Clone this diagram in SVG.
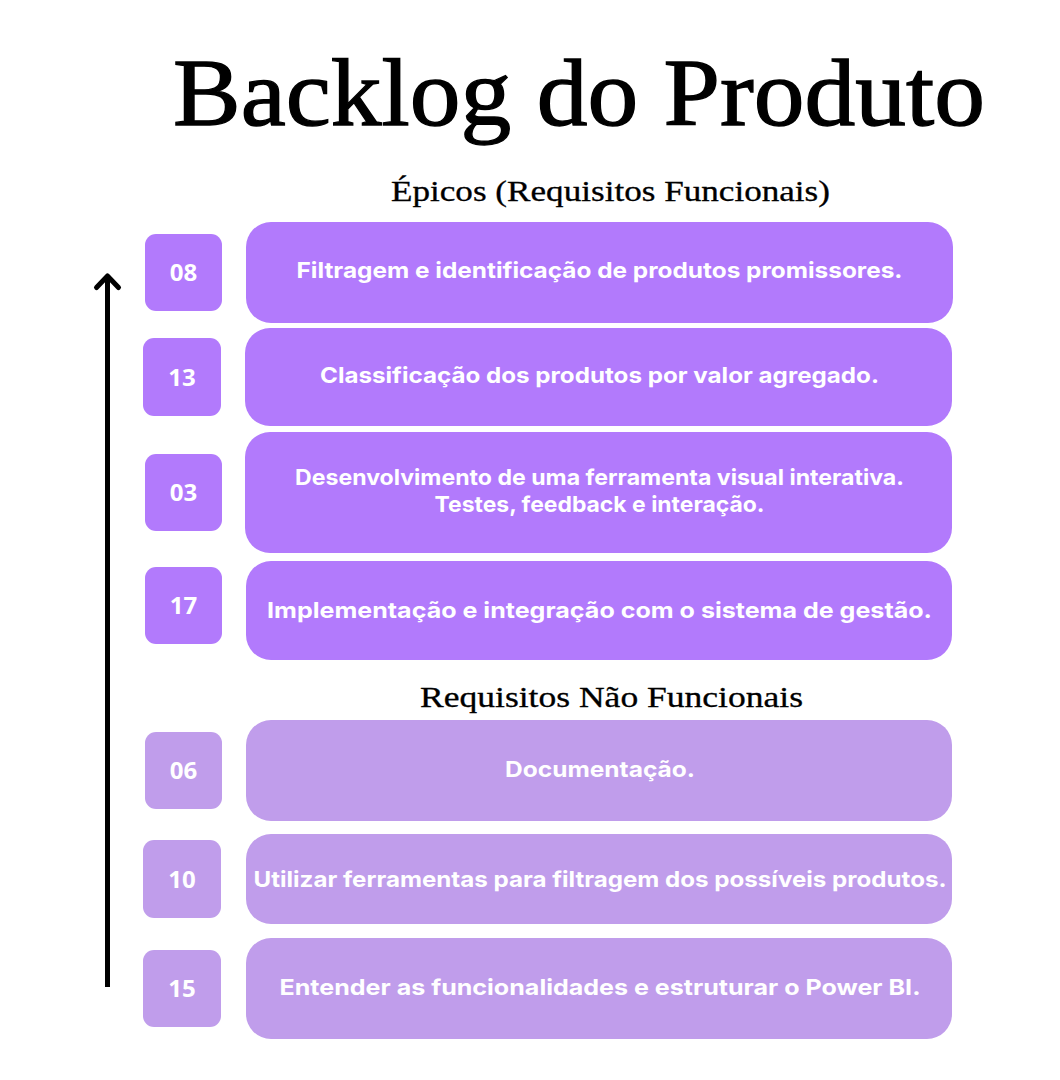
<svg xmlns="http://www.w3.org/2000/svg" width="1060" height="1080" viewBox="0 0 1060 1080">
  <style>
    .title { font-family: "Liberation Serif", "DejaVu Serif", serif; font-size: 95px; fill: #000; stroke: #000; stroke-width: 1.3px; }
    .sub { font-family: "Liberation Serif", "DejaVu Serif", serif; font-size: 29px; fill: #000; stroke: #000; stroke-width: 0.3px; }
    .epic { fill: #b27afc; }
    .nf { fill: #c09deb; }
    .num { font-family: "Open Sans", "Liberation Sans", sans-serif; font-weight: 700; font-size: 24px; fill: #fff; text-anchor: middle; }
    .lbl { font-family: "Inter", "Liberation Sans", sans-serif; font-weight: 700; font-size: 22px; fill: #fff; text-anchor: middle; }
  </style>
  <defs>
    <marker id="chev" viewBox="-16 -16 32 32" refX="0" refY="0" markerWidth="32" markerHeight="32" markerUnits="userSpaceOnUse" orient="auto" overflow="visible">
      <path d="M -11.5 -11 L 0 0 L -11.5 11" fill="none" stroke="#000" stroke-width="5" stroke-linecap="round" stroke-linejoin="round"/>
    </marker>
  </defs>
  <rect width="1060" height="1080" fill="#fff"/>

  <text class="title" x="173" y="125" textLength="812" lengthAdjust="spacingAndGlyphs">Backlog do Produto</text>
  <text class="sub" x="391" y="201" textLength="439" lengthAdjust="spacingAndGlyphs">Épicos (Requisitos Funcionais)</text>
  <text class="sub" x="420" y="707" textLength="383" lengthAdjust="spacingAndGlyphs">Requisitos Não Funcionais</text>

  <g id="connectors">
    <line x1="107.5" y1="987" x2="107.5" y2="276" stroke="#000" stroke-width="5" marker-end="url(#chev)"/>
  </g>

  <g id="item-08">
    <rect class="epic" x="145" y="234" width="77" height="77" rx="11"/>
    <text class="num" x="183.5" y="281">08</text>
    <rect class="epic" x="246" y="222" width="707" height="101" rx="25"/>
    <text class="lbl" x="599.5" y="278" textLength="606" lengthAdjust="spacingAndGlyphs">Filtragem e identificação de produtos promissores.</text>
  </g>

  <g id="item-13">
    <rect class="epic" x="143" y="338" width="78" height="78" rx="11"/>
    <text class="num" x="182" y="385.5">13</text>
    <rect class="epic" x="245" y="328" width="707" height="98" rx="25"/>
    <text class="lbl" x="599.5" y="383" textLength="559" lengthAdjust="spacingAndGlyphs">Classificação dos produtos por valor agregado.</text>
  </g>

  <g id="item-03">
    <rect class="epic" x="145" y="454" width="77" height="77" rx="11"/>
    <text class="num" x="183.5" y="501">03</text>
    <rect class="epic" x="245" y="432" width="707" height="121" rx="25"/>
    <text class="lbl" x="599.5" y="485" textLength="609" lengthAdjust="spacingAndGlyphs">Desenvolvimento de uma ferramenta visual interativa.</text>
    <text class="lbl" x="599.5" y="512" textLength="330" lengthAdjust="spacingAndGlyphs">Testes, feedback e interação.</text>
  </g>

  <g id="item-17">
    <rect class="epic" x="145" y="567" width="77" height="77" rx="11"/>
    <text class="num" x="183.5" y="614">17</text>
    <rect class="epic" x="246" y="561" width="706" height="99" rx="25"/>
    <text class="lbl" x="599.5" y="618" textLength="665" lengthAdjust="spacingAndGlyphs">Implementação e integração com o sistema de gestão.</text>
  </g>

  <g id="item-06">
    <rect class="nf" x="145" y="732" width="77" height="77" rx="11"/>
    <text class="num" x="183.5" y="779">06</text>
    <rect class="nf" x="246" y="720" width="706" height="101" rx="25"/>
    <text class="lbl" x="600" y="777" textLength="190" lengthAdjust="spacingAndGlyphs">Documentação.</text>
  </g>

  <g id="item-10">
    <rect class="nf" x="143" y="840" width="78" height="78" rx="11"/>
    <text class="num" x="182" y="887.5">10</text>
    <rect class="nf" x="246" y="834" width="706" height="90" rx="25"/>
    <text class="lbl" x="600" y="887" textLength="693" lengthAdjust="spacingAndGlyphs">Utilizar ferramentas para filtragem dos possíveis produtos.</text>
  </g>

  <g id="item-15">
    <rect class="nf" x="143" y="950" width="78" height="77" rx="11"/>
    <text class="num" x="182" y="997">15</text>
    <rect class="nf" x="246" y="938" width="706" height="101" rx="25"/>
    <text class="lbl" x="600" y="995" textLength="641" lengthAdjust="spacingAndGlyphs">Entender as funcionalidades e estruturar o Power BI.</text>
  </g>
</svg>
